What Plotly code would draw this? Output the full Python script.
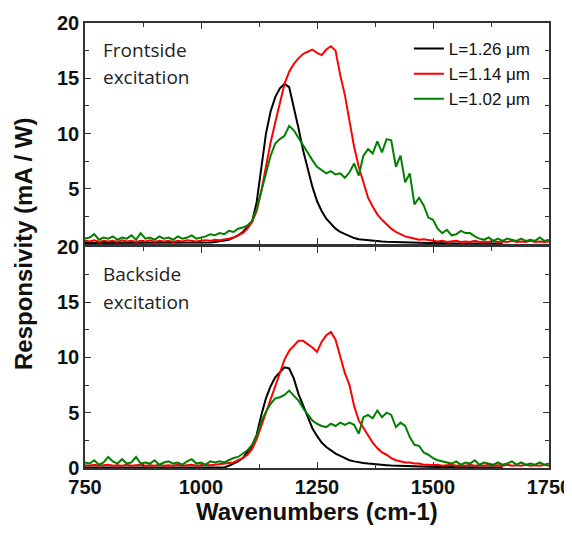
import plotly.graph_objects as go

wavenumbers = list(range(750, 1760, 10))

# ---- Frontside excitation (top panel) ----
front_L126 = [0.1]*26 + [0.1, 0.15, 0.2, 0.25, 0.3, 0.4, 0.6, 0.8, 1.1, 1.6,
    2.0, 3.8, 7.0, 10.0, 12.0, 13.3, 14.1, 14.5, 14.2, 12.4,
    10.5, 8.5, 6.9, 5.2, 3.9, 3.0, 2.3, 1.8, 1.4, 1.1,
    0.9, 0.7, 0.55, 0.45, 0.4, 0.35, 0.3, 0.28, 0.25, 0.22,
    0.2, 0.18, 0.16, 0.15, 0.13, 0.12, 0.11, 0.1, 0.1, 0.1,
    0.08, 0.08, 0.07, 0.07, 0.06, 0.06, 0.06, 0.05, 0.05, 0.05,
    0.05, 0.05, 0.05, 0.05, 0.05]

front_L114 = [0.3, 0.25, 0.35, 0.2, 0.3, 0.25, 0.3, 0.2, 0.35, 0.25,
    0.3, 0.2, 0.3, 0.25, 0.35, 0.2, 0.3, 0.25, 0.3, 0.2,
    0.3, 0.25, 0.35, 0.3, 0.25, 0.3, 0.35, 0.3, 0.4, 0.35,
    0.4, 0.5, 0.6, 0.8, 1.0, 1.4, 2.0, 3.0, 4.8, 7.0,
    9.2, 11.0, 12.8, 14.5, 15.6, 16.3, 16.8, 17.2, 17.4, 17.6,
    17.3, 17.1, 17.6, 17.9, 17.5, 15.3, 13.5, 11.0, 8.8, 7.0,
    5.5, 4.2, 3.4, 2.7, 2.2, 1.8, 1.4, 1.1, 0.9, 0.7,
    0.6, 0.5, 0.4, 0.45, 0.35, 0.3, 0.25, 0.3, 0.2, 0.25,
    0.3, 0.2, 0.25, 0.2, 0.3, 0.2, 0.25, 0.2, 0.3, 0.2,
    0.25, 0.2, 0.3, 0.2, 0.25, 0.2, 0.3, 0.2, 0.25, 0.2, 0.25]

front_L102 = [0.5, 0.6, 0.9, 0.4, 0.6, 0.5, 0.7, 0.4, 0.6, 0.5,
    0.8, 0.4, 1.0, 0.5, 0.6, 0.4, 0.7, 0.5, 0.6, 0.4,
    0.7, 0.5, 0.6, 0.8, 0.5, 0.6, 0.7, 0.9, 0.8, 1.0,
    0.9, 1.2, 1.1, 1.4, 1.5, 1.7, 2.1, 3.2, 4.8, 6.4,
    8.0, 9.1, 9.5, 9.8, 10.7, 10.3, 9.6, 9.0, 8.3, 7.6,
    7.0, 6.7, 6.4, 6.6, 6.3, 6.4, 6.0, 6.5, 7.3, 6.2,
    8.0, 8.6, 8.2, 9.3, 8.3, 9.5, 9.4, 7.0, 8.0, 5.6,
    6.4, 3.6, 4.2, 3.5, 2.4, 2.2, 1.4, 1.0, 1.3, 0.8,
    0.9, 1.2, 1.0, 1.0, 0.7, 0.5, 0.4, 0.6, 0.3, 0.5,
    0.3, 0.5, 0.4, 0.3, 0.5, 0.3, 0.4, 0.3, 0.6, 0.3, 0.4]

# ---- Backside excitation (bottom panel) ----
back_L126 = [0.05]*31 + [0.2, 0.4, 0.6, 0.9, 1.4, 2.0, 3.0, 4.8, 6.3,
    7.4, 8.2, 8.7, 9.1, 9.0, 8.1, 6.7, 5.7, 4.7, 3.6,
    2.9, 2.3, 1.9, 1.6, 1.3, 1.1, 0.9, 0.7, 0.6, 0.5,
    0.45, 0.4, 0.35, 0.3, 0.28, 0.25, 0.22, 0.2, 0.18, 0.16,
    0.15, 0.13, 0.12, 0.11, 0.1, 0.1, 0.08, 0.08, 0.07, 0.07,
    0.06, 0.06, 0.06, 0.05, 0.05, 0.05, 0.05, 0.05, 0.05, 0.05, 0.05]

back_L114 = [0.25, 0.2, 0.3, 0.2, 0.25, 0.3, 0.2, 0.25, 0.2, 0.3,
    0.2, 0.25, 0.3, 0.2, 0.25, 0.2, 0.3, 0.2, 0.25, 0.2,
    0.3, 0.2, 0.25, 0.3, 0.2, 0.25, 0.3, 0.25, 0.3, 0.3,
    0.35, 0.4, 0.5, 0.7, 0.9, 1.2, 1.7, 2.6, 3.8, 5.0,
    6.2, 7.4, 8.7, 9.8, 10.6, 11.1, 11.5, 11.5, 11.2, 10.9,
    10.5, 11.4, 12.0, 12.3, 11.6, 10.0, 8.6, 7.5, 5.6, 4.3,
    3.6, 3.0, 2.3, 1.8, 1.4, 1.2, 0.9, 0.7, 0.6, 0.5,
    0.5, 0.4, 0.4, 0.3, 0.3, 0.25, 0.3, 0.2, 0.25, 0.3,
    0.2, 0.25, 0.2, 0.3, 0.2, 0.25, 0.2, 0.3, 0.2, 0.25,
    0.2, 0.3, 0.2, 0.25, 0.2, 0.3, 0.2, 0.25, 0.2, 0.3, 0.2]

back_L102 = [0.5, 0.4, 0.7, 0.3, 0.5, 1.0, 0.6, 0.4, 0.8, 0.4,
    0.5, 1.0, 0.4, 0.5, 0.4, 0.7, 0.3, 0.5, 0.6, 0.4,
    0.5, 0.3, 0.6, 0.8, 0.4, 0.5, 0.3, 0.6, 0.5, 0.6,
    0.5, 0.7, 0.9, 1.0, 1.3, 1.6, 2.1, 2.9, 4.2, 5.1,
    5.8, 6.3, 6.4, 6.6, 7.0, 6.5, 6.1, 5.4, 4.8, 4.3,
    4.0, 3.8, 3.7, 4.0, 3.8, 4.1, 3.9, 4.1, 3.9, 3.1,
    4.6, 4.8, 4.5, 5.2, 4.6, 5.0, 4.8, 3.7, 4.1, 3.8,
    2.8, 2.1, 2.0, 1.4, 1.2, 0.9, 0.7, 0.6, 0.5, 0.4,
    0.6, 0.3, 0.5, 0.4, 0.7, 0.3, 0.5, 0.4, 0.3, 0.5,
    0.3, 0.4, 0.6, 0.3, 0.5, 0.3, 0.4, 0.3, 0.5, 0.3, 0.4]

series_names = ["L=1.26 μm", "L=1.14 μm", "L=1.02 μm"]
colors = ["#000000", "#ff0000", "#008000"]

fig = go.Figure()
for name, ys, c in zip(series_names, [front_L126, front_L114, front_L102], colors):
    fig.add_trace(go.Scatter(x=wavenumbers, y=ys, mode="lines", name=name,
                             line=dict(color=c, width=2), xaxis="x", yaxis="y"))
for name, ys, c in zip(series_names, [back_L126, back_L114, back_L102], colors):
    fig.add_trace(go.Scatter(x=wavenumbers, y=ys, mode="lines", name=name,
                             line=dict(color=c, width=2), xaxis="x2", yaxis="y2",
                             showlegend=False))

tickfont = dict(family="Liberation Sans, Arial", size=20, color="#111", weight="bold")
axcommon = dict(showline=True, linecolor="#333", linewidth=1.5, mirror="ticks",
                ticks="inside", ticklen=6, tickwidth=1.3, tickcolor="#333",
                showgrid=False, zeroline=False, automargin=False,
                ticklabeloverflow="allow")
minor_x = dict(dtick=125, tick0=750, ticks="inside", ticklen=4, tickcolor="#333")
minor_y = dict(dtick=2.5, ticks="inside", ticklen=4, tickcolor="#333")

# page body has an 8px margin: figure sized to fit the window without scrolling
fig.update_layout(
    width=564, height=519,
    margin=dict(l=77, r=23, t=15, b=59, autoexpand=False),
    paper_bgcolor="white", plot_bgcolor="white",
    xaxis=dict(domain=[0, 1], anchor="y", range=[750, 1750], dtick=250, tick0=750,
               showticklabels=False, minor=minor_x, **axcommon),
    yaxis=dict(domain=[0.503, 1], anchor="x", range=[0, 20], tickvals=[5, 10, 15, 20],
               tickfont=tickfont, minor=minor_y, **axcommon),
    xaxis2=dict(domain=[0, 1], anchor="y2", range=[750, 1750], dtick=250, tick0=750,
                tickfont=tickfont, minor=minor_x, **axcommon),
    yaxis2=dict(domain=[0, 0.497], anchor="x2", range=[0, 20], tickvals=[0, 5, 10, 15, 20],
                tickfont=tickfont, minor=minor_y, **axcommon),
    legend=dict(x=0.698, y=0.982, xanchor="left", yanchor="top",
                bgcolor="rgba(0,0,0,0)",
                font=dict(family="Liberation Sans, Arial", size=17, color="#111"),
                tracegroupgap=0),
    showlegend=True,
)

text_font = dict(family="Open Sans", size=19, color="#222")
for txt, yy in [("Frontside", 0.939), ("excitation", 0.879),
                ("Backside", 0.436), ("excitation", 0.373)]:
    fig.add_annotation(text=txt, xref="paper", yref="paper", x=0.034, y=yy,
                       xanchor="left", yanchor="middle", showarrow=False,
                       font=text_font)

fig.add_annotation(text="Responsivity (mA / W)", xref="paper", yref="paper",
                   x=-0.134, y=0.503, textangle=-90, showarrow=False,
                   xanchor="center", yanchor="middle",
                   font=dict(family="Liberation Sans, Arial", size=24, color="#111", weight="bold"))
fig.add_annotation(text="Wavenumbers (cm-1)", xref="paper", yref="paper",
                   x=0.5, y=-0.098, showarrow=False, xanchor="center", yanchor="middle",
                   font=dict(family="Liberation Sans, Arial", size=24, color="#111", weight="bold"))

fig.write_html("out.html")
